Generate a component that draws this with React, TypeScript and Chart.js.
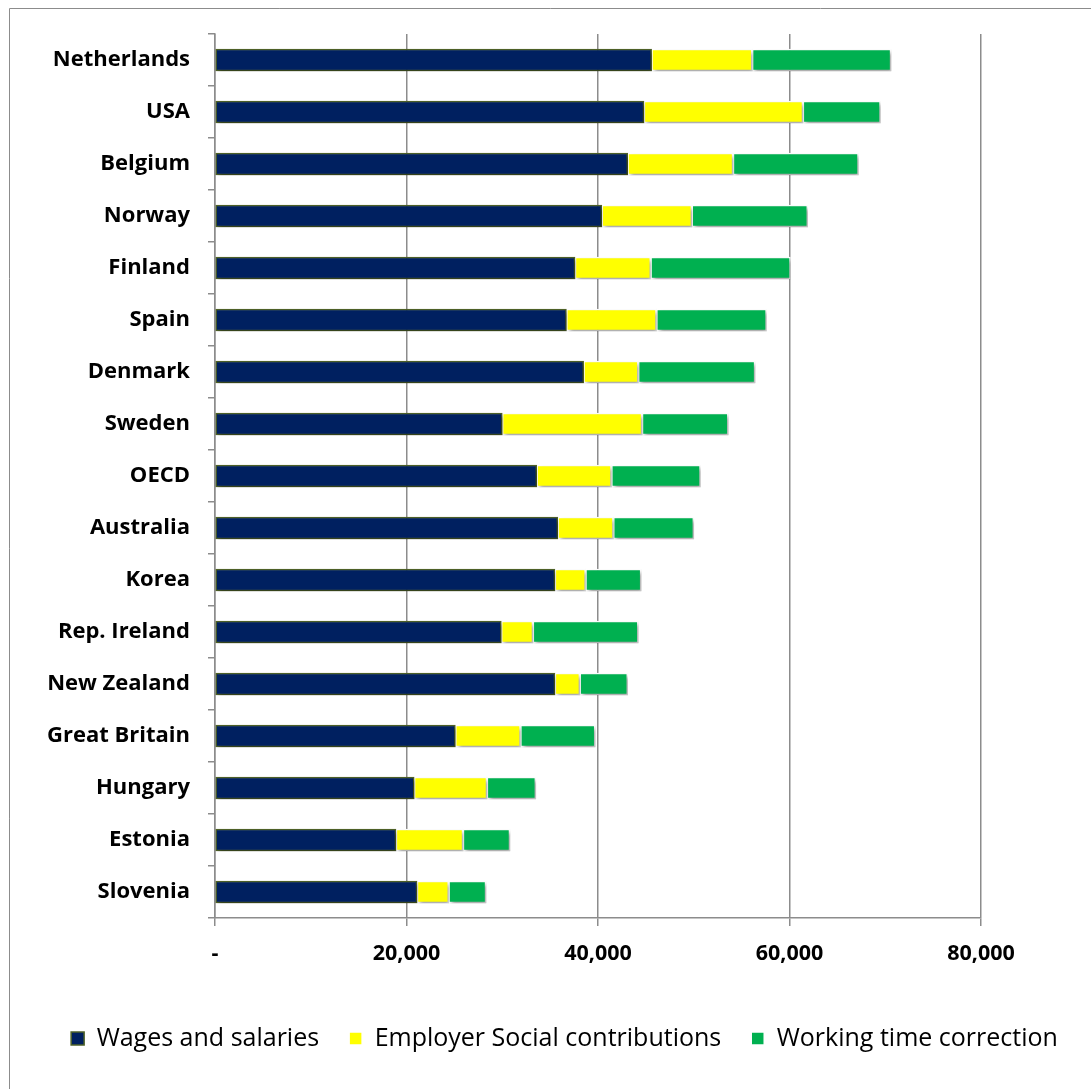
import React, { useEffect, useRef } from "react";
import { Chart, registerables } from "chart.js";

Chart.register(...registerables);

const countries = [
  "Netherlands", "USA", "Belgium", "Norway", "Finland", "Spain", "Denmark", "Sweden",
  "OECD", "Australia", "Korea", "Rep. Ireland", "New Zealand", "Great Britain",
  "Hungary", "Estonia", "Slovenia",
];
const wages = [45600, 44800, 43100, 40400, 37600, 36700, 38500, 30000, 33600, 35800, 35500, 29900, 35500, 25100, 20800, 18900, 21100];
const socialContrib = [10500, 16600, 11000, 9400, 7900, 9400, 5700, 14600, 7800, 5800, 3200, 3300, 2600, 6800, 7600, 7000, 3300];
const workingTime = [14500, 8100, 13100, 12100, 14600, 11500, 12200, 9000, 9300, 8400, 5800, 11000, 5000, 7800, 5100, 4900, 3900];
const xTicks = [0, 20000, 40000, 60000, 80000];
const seriesNames = ["Wages and salaries", "Employer Social contributions", "Working time correction"];

const frame = {
  id: "frame",
  beforeDraw(chart: any) {
    const ctx = chart.ctx;
    ctx.save();
    ctx.strokeStyle = "#8c8c8c";
    ctx.lineWidth = 1;
    ctx.beginPath();
    ctx.moveTo(9.5, 1089);
    ctx.lineTo(9.5, 8.5);
    ctx.lineTo(1091, 8.5);
    ctx.stroke();
    ctx.restore();
  },
  beforeDatasetDraw(chart: any) {
    const ctx = chart.ctx;
    ctx.save();
    ctx.shadowColor = "rgba(0,0,0,0.35)";
    ctx.shadowBlur = 4;
    ctx.shadowOffsetX = 2;
    ctx.shadowOffsetY = 3;
  },
  afterDatasetDraw(chart: any) {
    chart.ctx.restore();
  },
};

export default function App() {
  const ref = useRef<HTMLCanvasElement>(null);
  useEffect(() => {
    const chart = new Chart(ref.current!, {
      type: "bar",
      data: {
        labels: countries,
        datasets: [
          { label: seriesNames[0], data: wages, backgroundColor: "#002060", borderColor: "#4f6228", borderWidth: 1.5, borderSkipped: false },
          { label: seriesNames[1], data: socialContrib, backgroundColor: "#ffff00", borderColor: "#ffffff", borderWidth: 1.5, borderSkipped: false },
          { label: seriesNames[2], data: workingTime, backgroundColor: "#00b050", borderColor: "#ffffff", borderWidth: 1.5, borderSkipped: false },
        ],
      },
      options: {
        indexAxis: "y",
        animation: false,
        responsive: false,
        layout: { padding: { top: 34, right: 0, left: 38, bottom: 28 } },
        datasets: { bar: { barThickness: 22 } },
        scales: {
          x: {
            stacked: true,
            min: 0,
            max: 80000,
            afterBuildTicks: (s: any) => { s.ticks = xTicks.map((v) => ({ value: v })); },
            afterFit: (s: any) => { s.height = 78; },
            border: { display: true, color: "#8c8c8c", width: 1.5 },
            grid: { color: "#8c8c8c", lineWidth: 1.5, tickLength: 8, drawTicks: true },
            ticks: {
              color: "#000",
              padding: 15,
              font: { family: "Open Sans", weight: "bold", size: 21.5 },
              callback: (v: any) => (v === 0 ? "-" : Number(v).toLocaleString("en-US")),
            },
          },
          y: {
            stacked: true,
            afterFit: (s: any) => { s.width = 177; },
            border: { display: true, color: "#8c8c8c", width: 1.5 },
            grid: { offset: true, drawOnChartArea: false, color: "#8c8c8c", lineWidth: 1.5, tickLength: 7 },
            ticks: { color: "#000", padding: 18, font: { family: "Open Sans", weight: "bold", size: 22 } },
          },
          spacer: {
            type: "linear",
            position: "right",
            display: true,
            afterFit: (s: any) => { s.width = 110; },
            border: { display: false },
            grid: { display: false },
            ticks: { display: false },
          },
        },
        plugins: {
          tooltip: { enabled: false },
          legend: {
            position: "bottom",
            labels: {
              color: "#000",
              boxWidth: 13,
              boxHeight: 13,
              padding: 30,
              font: { family: "Open Sans", size: 25 },
            },
          },
        },
      },
      plugins: [frame],
    });
    return () => chart.destroy();
  }, []);
  return (
    <div style={{ position: "absolute", left: 0, top: 0, width: 1091, height: 1089, background: "#fff" }}>
      <canvas ref={ref} width={1091} height={1089} style={{ display: "block" }} />
    </div>
  );
}
